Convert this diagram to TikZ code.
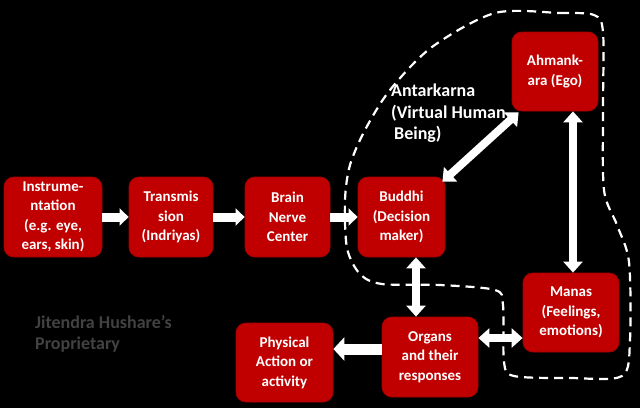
\documentclass[tikz,border=0pt]{standalone}
\usepackage{fontspec}
\setmainfont{Carlito}
\usetikzlibrary{arrows.meta,calc}
\definecolor{boxred}{RGB}{192,0,0}
\definecolor{boxedge}{RGB}{165,0,0}
\definecolor{wmgray}{RGB}{66,66,66}
\begin{document}
\begin{tikzpicture}[x=1pt,y=-1pt,
  box/.style={fill=boxred, draw=boxedge, line width=0.8pt, rounded corners=10pt,
    text=white, font=\bfseries\fontsize{15}{19.5}\selectfont, align=center, inner sep=0pt},
  flow/.style={draw=white, line width=9pt, line cap=butt, -{Triangle[length=9pt,width=17pt]}},
  bigflow/.style={draw=white, line width=11pt, line cap=butt, -{Triangle[length=11pt,width=23pt]}},
  dbl/.style={draw=white, line width=8pt, line cap=butt,
    {Triangle[length=11pt,width=19pt]}-{Triangle[length=11pt,width=19pt]}},
  loop/.style={draw=white, line width=2.2pt, dash pattern=on 9pt off 6pt},
  lbl/.style={text=white, font=\bfseries\fontsize{18}{21.5}\selectfont, align=left, inner sep=0pt},
  wm/.style={text=wmgray, font=\bfseries\fontsize{18}{21.5}\selectfont, inner sep=0pt}
]
\fill[black] (0,0) rectangle (640,408);
\useasboundingbox (0,0) rectangle (640,408);

% dashed Antarkarna boundary
\draw[loop] plot[smooth cycle, tension=0.5] coordinates {
  (495,13) (560,13) (594,15) (603,32) (603,110) (604,190) (617,225) (629,262)
  (630,340) (622,376) (570,378) (514,376) (504,362) (503,305) (495,290)
  (440,285) (382,284) (360,274) (347,248) (345,200) (350,165) (365,130)
  (390,90) (432,47)};

% boxes
\node[box, minimum width=98pt, minimum height=80pt] (ins) at (53,217) {Instrume-\\ntation\\(e.g. eye,\\ears, skin)};
\node[box, minimum width=84pt, minimum height=80pt] (tra) at (171,217) {Transmis\\sion\\(Indriyas)};
\node[box, minimum width=85pt, minimum height=80pt] (bra) at (287.5,217) {Brain\\Nerve\\Center};
\node[box, minimum width=87pt, minimum height=80pt] (bud) at (401.5,217) {Buddhi\\(Decision\\maker)};
\node[box, minimum width=86pt, minimum height=79pt] (ahm) at (555,71.5) {Ahmank-\\ara (Ego)};
\node[box, minimum width=96pt, minimum height=79pt] (man) at (571,312.5) {Manas\\(Feelings,\\emotions)};
\node[box, minimum width=96pt, minimum height=80pt] (org) at (430,357) {Organs\\and their\\responses};
\node[box, minimum width=97pt, minimum height=79pt] (phy) at (284.5,362.5) {Physical\\Action or\\activity};

% labels
\node[lbl, anchor=north west] (ant) at (391,84) {Antarkarna\\(Virtual Human\\\,Being)};
\node[wm, anchor=base west] (wm1) at (35,328) {Jitendra Hushare’s};
\node[wm, anchor=base west] (wm2) at (35,349) {Proprietary};

% connectors
\draw[flow] (ins.east) -- (tra.west);
\draw[flow] (tra.east) -- (bra.west);
\draw[flow] (bra.east) -- (bud.west);
\coordinate (xbo) at (416,0);
\draw[dbl] (bud.south -| xbo) -- (org.north -| xbo);
\coordinate (xam) at (573,0);
\draw[dbl] (ahm.south -| xam) -- (man.north -| xam);
\coordinate (yom) at (0,338);
\draw[dbl] (org.east |- yom) -- (man.west |- yom);
\coordinate (yop) at (0,349);
\draw[bigflow] (org.west |- yop) -- (phy.east |- yop);
\draw[dbl] ($(bud.north east)+(-3,5)$) -- ($(ahm.south west)+(7,1)$);
\end{tikzpicture}
\end{document}
